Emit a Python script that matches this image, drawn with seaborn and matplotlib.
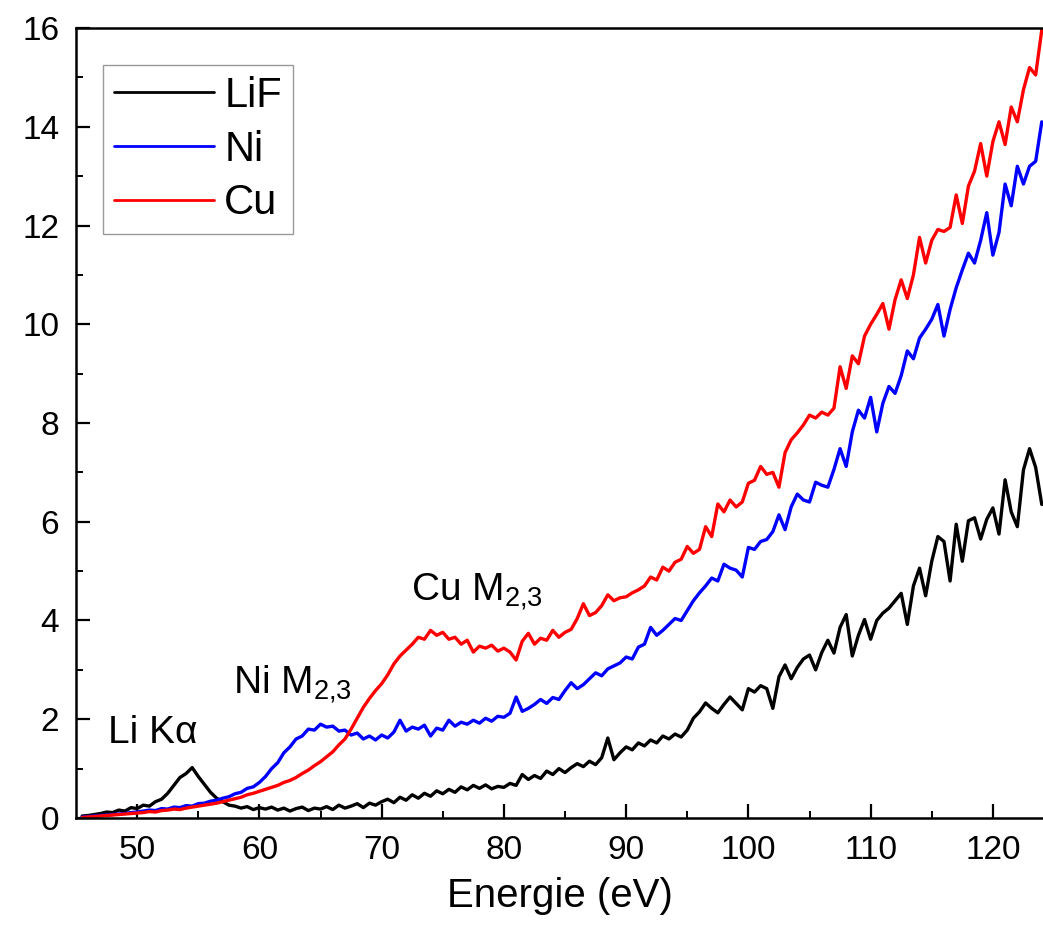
import matplotlib
matplotlib.use("Agg")
import matplotlib.pyplot as plt
import numpy as np
import pandas as pd
import seaborn as sns

# --- data (0.5 eV steps from 45.5 to 124 eV) ---
energy = np.arange(45.5, 124.01, 0.5)

lif = [
    0.04, 0.05, 0.07, 0.09, 0.12, 0.11, 0.16, 0.14, 0.21, 0.19,   # 45.5 - 50
    0.26, 0.24, 0.33, 0.38, 0.50, 0.66, 0.82, 0.90, 1.02, 0.84,   # 50.5 - 55
    0.68, 0.52, 0.40, 0.33, 0.26, 0.24, 0.20, 0.23, 0.17, 0.21,   # 55.5 - 60
    0.18, 0.22, 0.16, 0.20, 0.14, 0.19, 0.22, 0.15, 0.20, 0.18,   # 60.5 - 65
    0.23, 0.17, 0.26, 0.20, 0.24, 0.29, 0.21, 0.30, 0.26, 0.33,   # 65.5 - 70
    0.38, 0.31, 0.42, 0.36, 0.47, 0.40, 0.50, 0.44, 0.55, 0.49,   # 70.5 - 75
    0.58, 0.52, 0.63, 0.57, 0.66, 0.60, 0.67, 0.59, 0.64, 0.62,   # 75.5 - 80
    0.70, 0.66, 0.88, 0.78, 0.86, 0.80, 0.95, 0.88, 1.00, 0.92,   # 80.5 - 85
    1.02, 1.10, 1.04, 1.15, 1.08, 1.22, 1.62, 1.18, 1.32, 1.44,   # 85.5 - 90
    1.38, 1.52, 1.46, 1.58, 1.52, 1.66, 1.60, 1.70, 1.64, 1.78,   # 90.5 - 95
    2.02, 2.15, 2.33, 2.22, 2.13, 2.30, 2.45, 2.32, 2.19, 2.62,   # 95.5 - 100
    2.55, 2.68, 2.62, 2.22, 2.86, 3.10, 2.82, 3.05, 3.22, 3.30,   # 100.5 - 105
    3.00, 3.35, 3.60, 3.34, 3.86, 4.12, 3.28, 3.70, 4.02, 3.62,   # 105.5 - 110
    4.00, 4.15, 4.25, 4.40, 4.55, 3.92, 4.70, 5.06, 4.50, 5.20,   # 110.5 - 115
    5.70, 5.60, 4.80, 5.95, 5.20, 6.02, 6.08, 5.65, 6.05, 6.28,   # 115.5 - 120
    5.75, 6.85, 6.20, 5.90, 7.05, 7.48, 7.10, 6.35,               # 120.5 - 124
]

ni = [
    0.02, 0.03, 0.04, 0.05, 0.06, 0.07, 0.08, 0.09, 0.11, 0.12,
    0.14, 0.16, 0.15, 0.19, 0.18, 0.22, 0.21, 0.25, 0.24, 0.29,
    0.30, 0.34, 0.36, 0.40, 0.43, 0.49, 0.52, 0.60, 0.63, 0.72,
    0.84, 1.00, 1.12, 1.32, 1.44, 1.60, 1.66, 1.80, 1.78, 1.90,
    1.84, 1.86, 1.76, 1.78, 1.68, 1.72, 1.60, 1.66, 1.58, 1.68,
    1.62, 1.74, 1.98, 1.76, 1.84, 1.80, 1.88, 1.66, 1.82, 1.78,
    1.98, 1.86, 1.94, 1.90, 1.98, 1.92, 2.02, 1.96, 2.06, 2.04,
    2.12, 2.45, 2.16, 2.22, 2.30, 2.40, 2.32, 2.44, 2.40, 2.58,
    2.74, 2.62, 2.70, 2.82, 2.94, 2.88, 3.02, 3.08, 3.14, 3.26,
    3.22, 3.46, 3.52, 3.86, 3.70, 3.80, 3.92, 4.04, 4.00, 4.20,
    4.40, 4.56, 4.70, 4.86, 4.80, 5.14, 5.06, 5.02, 4.88, 5.48,
    5.44, 5.60, 5.64, 5.80, 6.14, 5.84, 6.30, 6.56, 6.44, 6.40,
    6.80, 6.74, 6.70, 7.06, 7.48, 7.12, 7.82, 8.26, 8.10, 8.52,
    7.82, 8.40, 8.74, 8.60, 8.96, 9.46, 9.30, 9.72, 9.90, 10.10,
    10.40, 9.76, 10.30, 10.74, 11.10, 11.44, 11.24, 11.70, 12.26, 11.40,
    11.86, 12.84, 12.40, 13.20, 12.84, 13.20, 13.30, 14.10,
]

cu = [
    0.01, 0.02, 0.03, 0.04, 0.05, 0.06, 0.07, 0.08, 0.09, 0.10,
    0.11, 0.13, 0.12, 0.15, 0.16, 0.18, 0.17, 0.20, 0.22, 0.24,
    0.26, 0.28, 0.30, 0.33, 0.36, 0.39, 0.42, 0.47, 0.50, 0.54,
    0.58, 0.62, 0.66, 0.72, 0.76, 0.82, 0.90, 0.97, 1.06, 1.14,
    1.24, 1.34, 1.48, 1.60, 1.80, 2.02, 2.24, 2.42, 2.58, 2.72,
    2.90, 3.12, 3.28, 3.40, 3.52, 3.66, 3.62, 3.80, 3.70, 3.76,
    3.62, 3.66, 3.52, 3.60, 3.36, 3.48, 3.44, 3.50, 3.38, 3.44,
    3.36, 3.20, 3.58, 3.74, 3.52, 3.64, 3.60, 3.80, 3.66, 3.76,
    3.82, 4.04, 4.34, 4.10, 4.16, 4.30, 4.52, 4.40, 4.46, 4.48,
    4.56, 4.62, 4.70, 4.88, 4.82, 5.08, 5.00, 5.18, 5.24, 5.50,
    5.36, 5.44, 5.90, 5.70, 6.36, 6.20, 6.44, 6.30, 6.40, 6.78,
    6.84, 7.12, 6.96, 7.00, 6.70, 7.40, 7.66, 7.80, 7.96, 8.16,
    8.10, 8.22, 8.16, 8.30, 9.14, 8.70, 9.36, 9.20, 9.76, 10.00,
    10.20, 10.42, 9.90, 10.50, 10.90, 10.52, 11.00, 11.76, 11.24, 11.70,
    11.92, 11.88, 11.96, 12.62, 12.04, 12.80, 13.10, 13.66, 13.00, 13.70,
    14.10, 13.64, 14.40, 14.10, 14.75, 15.20, 15.05, 15.96,
]

series_names = ["LiF", "Ni", "Cu"]
colors = {"LiF": "black", "Ni": "#0000ff", "Cu": "#ff0000"}

df = pd.concat(
    [
        pd.DataFrame({"energy": energy, "counts": vals, "sample": name})
        for name, vals in zip(series_names, [lif, ni, cu])
    ],
    ignore_index=True,
)

# --- style ---
sns.set_theme(style="ticks")
plt.rcParams["font.family"] = ["Liberation Sans", "DejaVu Sans"]
plt.rcParams["mathtext.fontset"] = "custom"
plt.rcParams["mathtext.rm"] = "Liberation Sans"
plt.rcParams["mathtext.it"] = "Liberation Sans:italic"
plt.rcParams["text.color"] = "black"
plt.rcParams["axes.labelcolor"] = "black"

fig = plt.figure(figsize=(10.43, 9.31), dpi=100)
ax = fig.add_axes([0.0729, 0.1214, 0.9271, 0.8485])

sns.lineplot(
    data=df, x="energy", y="counts", hue="sample", hue_order=series_names,
    palette=colors, estimator=None, linewidth=2.4, ax=ax,
)

ax.set_xlim(45, 124.1)
ax.set_ylim(0, 16)
ax.set_xticks(range(50, 121, 10))
ax.set_xticks(range(55, 121, 10), minor=True)
ax.set_yticks(range(0, 17, 2))
ax.set_yticks(range(1, 16, 2), minor=True)
ax.tick_params(which="major", direction="in", length=10, width=1.6,
               labelsize=24, pad=12, color="black", labelcolor="black")
ax.tick_params(which="minor", direction="in", length=5, width=1.4, color="black")
for side in ["left", "bottom", "top"]:
    ax.spines[side].set_linewidth(1.8)
    ax.spines[side].set_color("black")
ax.spines["right"].set_visible(False)

ax.set_xlabel("Energie (eV)", fontsize=29, labelpad=8)
ax.set_ylabel("")

leg = ax.legend(
    loc="upper left", bbox_to_anchor=(0.028, 0.953), borderaxespad=0,
    fontsize=30, frameon=True, fancybox=False, edgecolor="#808080",
    handlelength=2.4, handletextpad=0.25, labelspacing=0.33, borderpad=0.26,
)
leg.get_frame().set_linewidth(1.0)
for line in leg.get_lines():
    line.set_linewidth(2.0)

ax.text(47.6, 1.52, "Li K\u03b1", fontsize=28, ha="left", va="baseline")
ax.text(57.8, 2.53, r"Ni M$_{\mathrm{2{,}3}}$", fontsize=28, ha="left", va="baseline")
ax.text(72.4, 4.42, r"Cu M$_{\mathrm{2{,}3}}$", fontsize=28, ha="left", va="baseline")

fig.savefig("out.png", dpi=100)
